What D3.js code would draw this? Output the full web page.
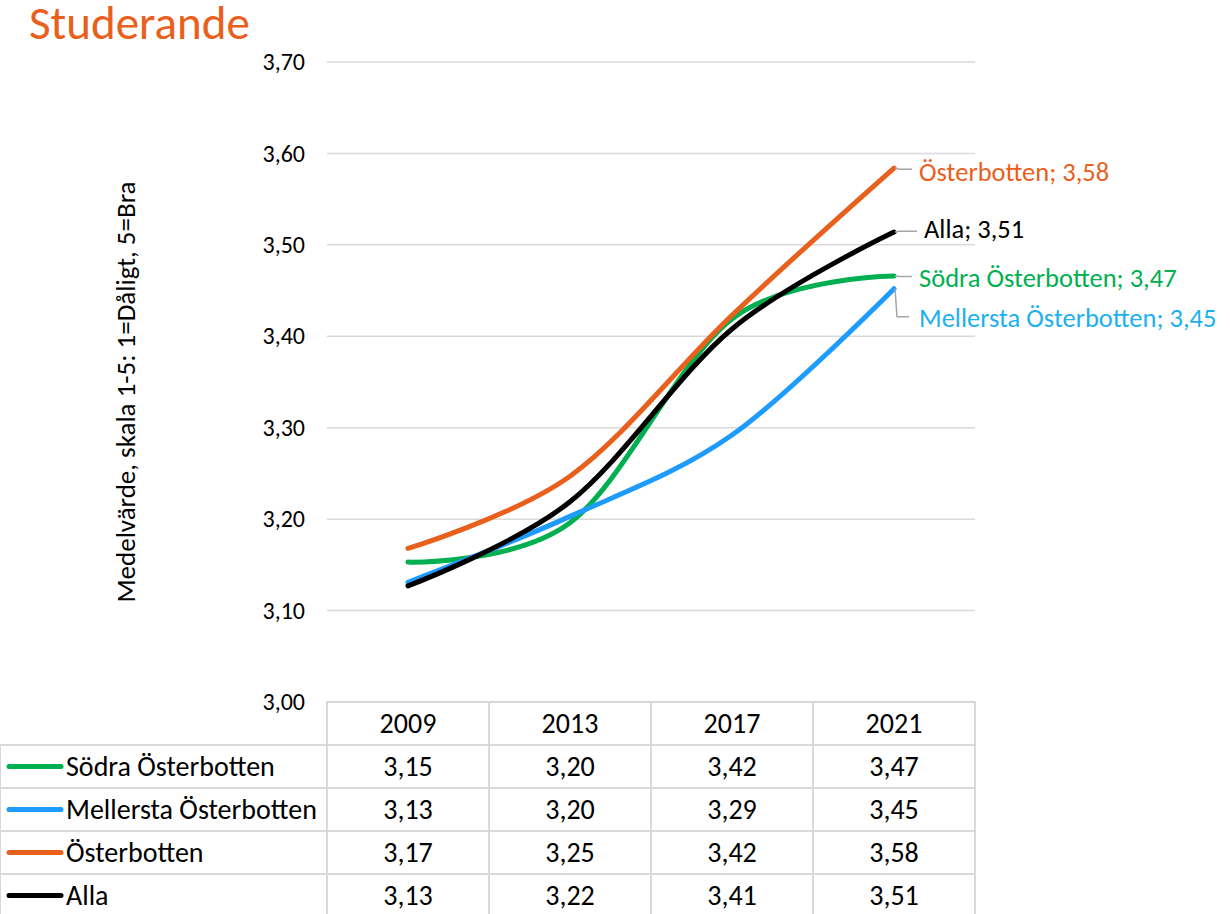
<!DOCTYPE html>
<html>
<head>
<meta charset="utf-8">
<script src="https://cdn.jsdelivr.net/npm/d3@7"></script>
<style>
  body { margin: 0; background: #fff; }
  svg text { font-family: Carlito, Calibri, Lato, sans-serif; }
</style>
</head>
<body>
<div class="chart"></div>
<script>
// data
var years = ["2009", "2013", "2017", "2021"];
var seriesNames = ["Södra Österbotten", "Mellersta Österbotten", "Österbotten", "Alla"];
var sodra = [3.153, 3.196, 3.419, 3.466];
var mellersta = [3.131, 3.203, 3.292, 3.452];
var osterbotten = [3.168, 3.247, 3.423, 3.584];
var alla = [3.127, 3.219, 3.408, 3.514];
var yTicks = [3.0, 3.1, 3.2, 3.3, 3.4, 3.5, 3.6, 3.7];

var lineColors = ["#00b050", "#1e9bff", "#e8601c", "#000000"];
var labelColors = ["#00b050", "#20b0f0", "#e8601c", "#000000"];

var series = seriesNames.map(function(name, i) {
  return { name: name, values: [sodra, mellersta, osterbotten, alla][i], line: lineColors[i], label: labelColors[i] };
});

var svgWidth = 1230;
var svgHeight = 914;

var svg = d3.select(".chart")
  .append("svg")
  .attr("width", svgWidth)
  .attr("height", svgHeight);

// plot area
var plotLeft = 327, plotRight = 975, plotTop = 62, plotBottom = 702;
var rowH = 43;

var xScale = d3.scaleBand()
  .domain(years)
  .range([plotLeft, plotRight]);

var yScale = d3.scaleLinear()
  .domain([3.0, 3.7])
  .range([plotBottom, plotTop]);

var fmt = function(v) { return d3.format(".2f")(v).replace(".", ","); };

// title
svg.append("text")
  .attr("x", 29)
  .attr("y", 39)
  .attr("fill", "#e8601c")
  .style("font-size", "47px")
  .text("Studerande");

// gridlines (3,00 is covered by table border)
svg.append("g")
  .selectAll("line")
  .data(yTicks.filter(function(t) { return t > 3.0; }))
  .enter()
  .append("line")
  .attr("x1", plotLeft)
  .attr("x2", plotRight)
  .attr("y1", function(d) { return yScale(d); })
  .attr("y2", function(d) { return yScale(d); })
  .attr("stroke", "#d9d9d9")
  .attr("stroke-width", 1.5);

// y axis labels
var leftAxis = d3.axisLeft(yScale)
  .tickValues(yTicks)
  .tickFormat(fmt)
  .tickSize(0)
  .tickPadding(22);

var yAxis = svg.append("g")
  .attr("transform", `translate(${plotLeft}, 0)`)
  .call(leftAxis);
yAxis.select(".domain").remove();
yAxis.selectAll("text")
  .style("font-size", "24px")
  .style("font-family", "Carlito, Calibri, Lato, sans-serif")
  .attr("fill", "#000");

// axis title
svg.append("text")
  .attr("transform", "translate(135, 392) rotate(-90)")
  .attr("text-anchor", "middle")
  .style("font-size", "27px")
  .text("Medelvärde, skala 1-5: 1=Dåligt, 5=Bra");

// lines
var line = d3.line()
  .x(function(d, i) { return xScale(years[i]) + xScale.bandwidth() / 2; })
  .y(function(d) { return yScale(d); })
  .curve(d3.curveCardinal.tension(0));

svg.append("g")
  .selectAll("path")
  .data(series)
  .enter()
  .append("path")
  .attr("d", function(d) { return line(d.values); })
  .attr("fill", "none")
  .attr("stroke", function(d) { return d.line; })
  .attr("stroke-width", 5)
  .attr("stroke-linecap", "round");

// end labels with leader lines
var labelOffsets = [
  { dx: 25, dy: 2, leader: "h" },
  { dx: 25, dy: 29, leader: "v" },
  { dx: 25, dy: 4, leader: "h" },
  { dx: 30, dy: -3, leader: "h" }
];

series.forEach(function(s, i) {
  var last = s.values.length - 1;
  var px = xScale(years[last]) + xScale.bandwidth() / 2;
  var py = yScale(s.values[last]);
  var o = labelOffsets[i];
  var path;
  if (o.leader === "v") {
    path = `M${px + 1},${py} L${px + 3},${py + o.dy - 1} L${px + 15},${py + o.dy - 1}`;
  } else {
    path = `M${px + 1},${py} L${px + 5},${py + o.dy * 0.3} L${px + o.dx - 7},${py + o.dy * 0.3}`;
  }
  svg.append("path")
    .attr("d", path)
    .attr("fill", "none")
    .attr("stroke", "#a6a6a6")
    .attr("stroke-width", 1.5);
  svg.append("text")
    .attr("x", px + o.dx)
    .attr("y", py + o.dy)
    .attr("dy", "0.35em")
    .attr("fill", s.label)
    .style("font-size", "26.5px")
    .text(s.name + "; " + fmt(s.values[last]));
});

// data table
var table = svg.append("g");
var gridColor = "#d9d9d9";

// header row
years.forEach(function(y) {
  table.append("rect")
    .attr("x", xScale(y))
    .attr("y", plotBottom)
    .attr("width", xScale.bandwidth())
    .attr("height", rowH)
    .attr("fill", "none")
    .attr("stroke", gridColor)
    .attr("stroke-width", 2);
  table.append("text")
    .attr("x", xScale(y) + xScale.bandwidth() / 2)
    .attr("y", plotBottom + rowH / 2)
    .attr("dy", "0.35em")
    .attr("text-anchor", "middle")
    .style("font-size", "28px")
    .text(y);
});

series.forEach(function(s, r) {
  var ry = plotBottom + rowH * (r + 1);
  table.append("rect")
    .attr("x", 0)
    .attr("y", ry)
    .attr("width", plotLeft)
    .attr("height", rowH)
    .attr("fill", "none")
    .attr("stroke", gridColor)
    .attr("stroke-width", 2);
  table.append("line")
    .attr("x1", 9)
    .attr("x2", 61)
    .attr("y1", ry + rowH / 2)
    .attr("y2", ry + rowH / 2)
    .attr("stroke", s.line)
    .attr("stroke-width", 5)
    .attr("stroke-linecap", "round");
  table.append("text")
    .attr("x", 66)
    .attr("y", ry + rowH / 2)
    .attr("dy", "0.35em")
    .style("font-size", "28px")
    .text(s.name);
  s.values.forEach(function(v, c) {
    table.append("rect")
      .attr("x", xScale(years[c]))
      .attr("y", ry)
      .attr("width", xScale.bandwidth())
      .attr("height", rowH)
      .attr("fill", "none")
      .attr("stroke", gridColor)
      .attr("stroke-width", 2);
    table.append("text")
      .attr("x", xScale(years[c]) + xScale.bandwidth() / 2)
      .attr("y", ry + rowH / 2)
      .attr("dy", "0.35em")
      .attr("text-anchor", "middle")
      .style("font-size", "28px")
      .text(fmt(v));
  });
});
</script>
</body>
</html>
